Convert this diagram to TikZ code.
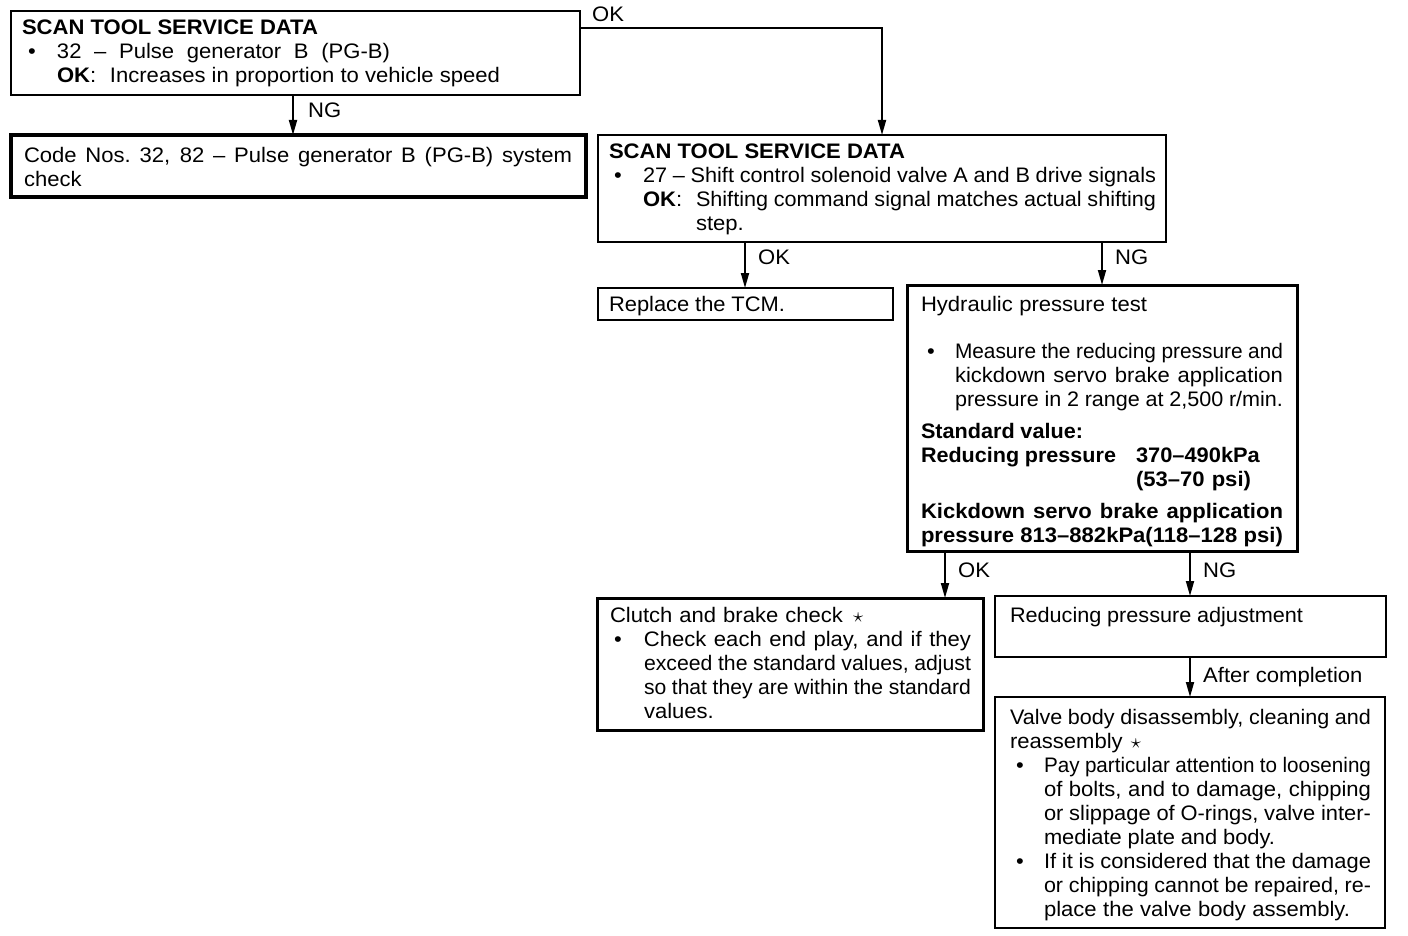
\documentclass[tikz,border=0pt]{standalone}
\usepackage{fontspec}
\setmainfont{Liberation Sans}[FakeStretch=1.05]
\usepackage{graphicx}
\usetikzlibrary{arrows.meta}
\newlength\jlw
\newcommand\jl[2]{{\spaceskip=0.278em plus 1fil\relax\xspaceskip=\spaceskip\settowidth\jlw{#2}\ifdim\jlw>#1\relax\resizebox{#1}{\height}{#2}\else\makebox[#1][s]{#2}\fi}}
\newcommand\bul[1]{\makebox[#1][l]{•}}
\begin{document}
\begin{tikzpicture}[x=1pt,y=-1pt,
  box/.style={draw, anchor=north west, inner sep=0pt, outer sep=0pt},
  thinbox/.style={box, line width=1.6pt},
  thickbox/.style={box, line width=3pt},
  txt/.style={anchor=base west, inner sep=0pt, outer sep=0pt, align=left, font=\fontsize{21}{24}\selectfont},
  arr/.style={line width=1.8pt, -{Triangle[length=15pt,width=8pt]}},
  lbl/.style={anchor=base west, inner sep=0pt, font=\fontsize{21}{24}\selectfont}]
\useasboundingbox[fill=white] (0,0) rectangle (1408,936);

% boxes
\node[thinbox, line width=1.8pt, minimum width=569pt, minimum height=84pt] (A) at (11,11) {};
\node[thickbox, line width=3.5pt, minimum width=575pt, minimum height=62pt] (B) at (11,135) {};
\node[thinbox, line width=1.5pt, minimum width=568pt, minimum height=107pt] (C) at (598,135) {};
\node[thinbox, line width=1.5pt, minimum width=295pt, minimum height=32pt] (D) at (598,288) {};
\node[thickbox, minimum width=390pt, minimum height=266pt] (E) at (907,285) {};
\node[thickbox, minimum width=386pt, minimum height=132pt] (F) at (597,598) {};
\node[thickbox, line width=2.5pt, minimum width=391pt, minimum height=61pt] (G) at (995,596) {};
\node[thickbox, line width=2.5pt, minimum width=390pt, minimum height=231pt] (H) at (995,697) {};

% texts
\node[txt, text width=555pt] (At) at (22,35) {%
\jl{296pt}{\textbf{SCAN TOOL SERVICE DATA}}\\
\hspace*{6pt}\bul{29pt}\jl{333pt}{32 – Pulse generator B (PG-B)}\\
\hspace*{35pt}\makebox[53pt][l]{\textbf{OK}:}\jl{390pt}{Increases in proportion to vehicle speed}};

\node[txt, text width=555pt] (Bt) at (24,163) {%
\jl{548pt}{Code Nos. 32, 82 – Pulse generator B (PG-B) system}\\
check};

\node[txt, text width=555pt] (Ct) at (609,159) {%
\jl{296pt}{\textbf{SCAN TOOL SERVICE DATA}}\\
\hspace*{5pt}\bul{29pt}\jl{513pt}{27 – Shift control solenoid valve A and B drive signals}\\
\hspace*{34pt}\makebox[53pt][l]{\textbf{OK}:}\jl{460pt}{Shifting command signal matches actual shifting}\\
\hspace*{87pt}step.};

\node[txt, text width=280pt] (Dt) at (609,311) {\jl{176pt}{Replace the TCM.}};

\node[txt, text width=370pt] (Et) at (921,311) {%
\jl{226pt}{Hydraulic pressure test}\\[23pt]
\hspace*{6pt}\bul{28pt}\jl{328pt}{Measure the reducing pressure and}\\
\hspace*{34pt}\jl{328pt}{kickdown servo brake application}\\
\hspace*{34pt}\jl{328pt}{pressure in 2 range at 2,500 r/min.}\\[8pt]
\jl{162pt}{\textbf{Standard value:}}\\
\makebox[215pt][l]{\jl{195pt}{\textbf{Reducing pressure}}}\jl{124pt}{\textbf{370–490kPa}}\\
\hspace*{215pt}\jl{115pt}{\textbf{(53–70 psi)}}\\[8pt]
\jl{362pt}{\textbf{Kickdown servo brake application}}\\
\jl{362pt}{\textbf{pressure 813–882kPa(118–128 psi)}}};

\node[txt, text width=370pt] (Ft) at (610,622) {%
\jl{233pt}{Clutch and brake check}\hspace{10pt}$\star$\\
\hspace*{4pt}\bul{30pt}\jl{327pt}{Check each end play, and if they}\\
\hspace*{34pt}\jl{327pt}{exceed the standard values, adjust}\\
\hspace*{34pt}\jl{327pt}{so that they are within the standard}\\
\hspace*{34pt}values.};

\node[txt, text width=370pt] (Gt) at (1010,622) {\jl{293pt}{Reducing pressure adjustment}};

\node[txt, text width=370pt] (Ht) at (1010,724) {%
\jl{361pt}{Valve body disassembly, cleaning and}\\
reassembly\hspace{8pt}$\star$\\
\hspace*{6pt}\bul{28pt}\jl{327pt}{Pay particular attention to loosening}\\
\hspace*{34pt}\jl{327pt}{of bolts, and to damage, chipping}\\
\hspace*{34pt}\jl{327pt}{or slippage of O-rings, valve inter-}\\
\hspace*{34pt}\jl{231pt}{mediate plate and body.}\\
\hspace*{6pt}\bul{28pt}\jl{327pt}{If it is considered that the damage}\\
\hspace*{34pt}\jl{327pt}{or chipping cannot be repaired, re-}\\
\hspace*{34pt}\jl{306pt}{place the valve body assembly.}};

% connectors
\draw[arr] ([yshift=-17pt]A.north east) -| ([xshift=284pt]C.north west);
\draw[arr] ([xshift=282pt]A.south west) -- ([xshift=282pt]B.north west);
\draw[arr] ([xshift=147pt]C.south west) -- ([xshift=147pt]D.north west);
\draw[arr] ([xshift=504pt]C.south west) -- ([xshift=195pt]E.north west);
\draw[arr] ([xshift=38pt]E.south west) -- ([xshift=348pt]F.north west);
\draw[arr] ([xshift=283pt]E.south west) -- ([xshift=195pt]G.north west);
\draw[arr] ([xshift=195pt]G.south west) -- ([xshift=195pt]H.north west);

% labels
\node[lbl] (l1) at (592,22) {OK};
\node[lbl] (l2) at (308,118) {NG};
\node[lbl] (l3) at (758,265) {OK};
\node[lbl] (l4) at (1115,265) {NG};
\node[lbl] (l5) at (958,577) {OK};
\node[lbl] (l6) at (1203,577) {NG};
\node[lbl] (l7) at (1203,682) {After completion};
\end{tikzpicture}
\end{document}
